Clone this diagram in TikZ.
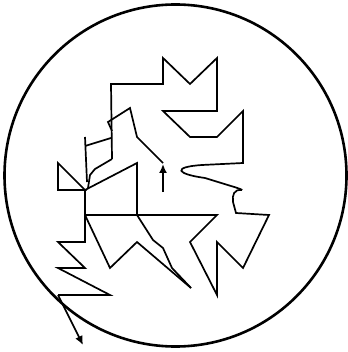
\documentclass[tikz,border=0pt]{standalone}
\usetikzlibrary{arrows.meta}
\begin{document}
\begin{tikzpicture}[x=1pt,y=-1pt,
  pen/.style={line width=1.7pt,line join=miter,black},
  ring/.style={line width=2.6pt,black},
  tipped/.style={pen,-{Latex[length=9pt,width=8pt]}}]
\useasboundingbox (0,0) rectangle (347,352);
\draw[ring] (175.5,175.5) circle (171);
% top structure
\draw[pen] (112,159) -- (111,84) -- (163,84) -- (163,58) -- (190,84) -- (217,58)
  -- (217,111) -- (163,111) -- (190,137) -- (217,137) -- (243,111) -- (243,163)
  -- (202,165) .. controls (172,167) and (176,174) .. (205,178) -- (231,186)
  .. controls (238,188) and (243,190) .. (242,190);
\draw[pen] (242,190) .. controls (234,189) and (232,195) .. (233,202)
  .. controls (234,208) .. (236,213) -- (269,215) -- (243,268) -- (217,242)
  -- (217,295) -- (190,242) -- (217,215) -- (85,215);
% left zigzag with final arrow
\draw[pen] (85,190) -- (85,242) -- (58,242) -- (85,268) -- (58,268) -- (110,295) -- (58,295);
\draw[tipped] (58,295) -- (83,345);
% lower diagonals
\draw[pen] (85,215) -- (110,268) -- (137,242) -- (191,288);
\draw[pen] (137,215) -- (153,240) -- (163,248) -- (172,268) -- (191,288);
% triangle and slanted box
\draw[pen] (58,163) -- (58,190) -- (85,190) -- cycle;
\draw[pen] (85,190) -- (137,163) -- (137,215);
% small wiggles
\draw[pen] (112,159) -- (95,169) -- (90,175) -- (88,188);
\draw[pen] (85,137) -- (87,182);
\draw[pen] (85,146) -- (111,138);
\draw[pen] (112,131) -- (108,122) -- (130,108) -- (137,137) -- (163,163);
% small arrow
\draw[tipped] (163,192) -- (163,164);
\end{tikzpicture}
\end{document}
